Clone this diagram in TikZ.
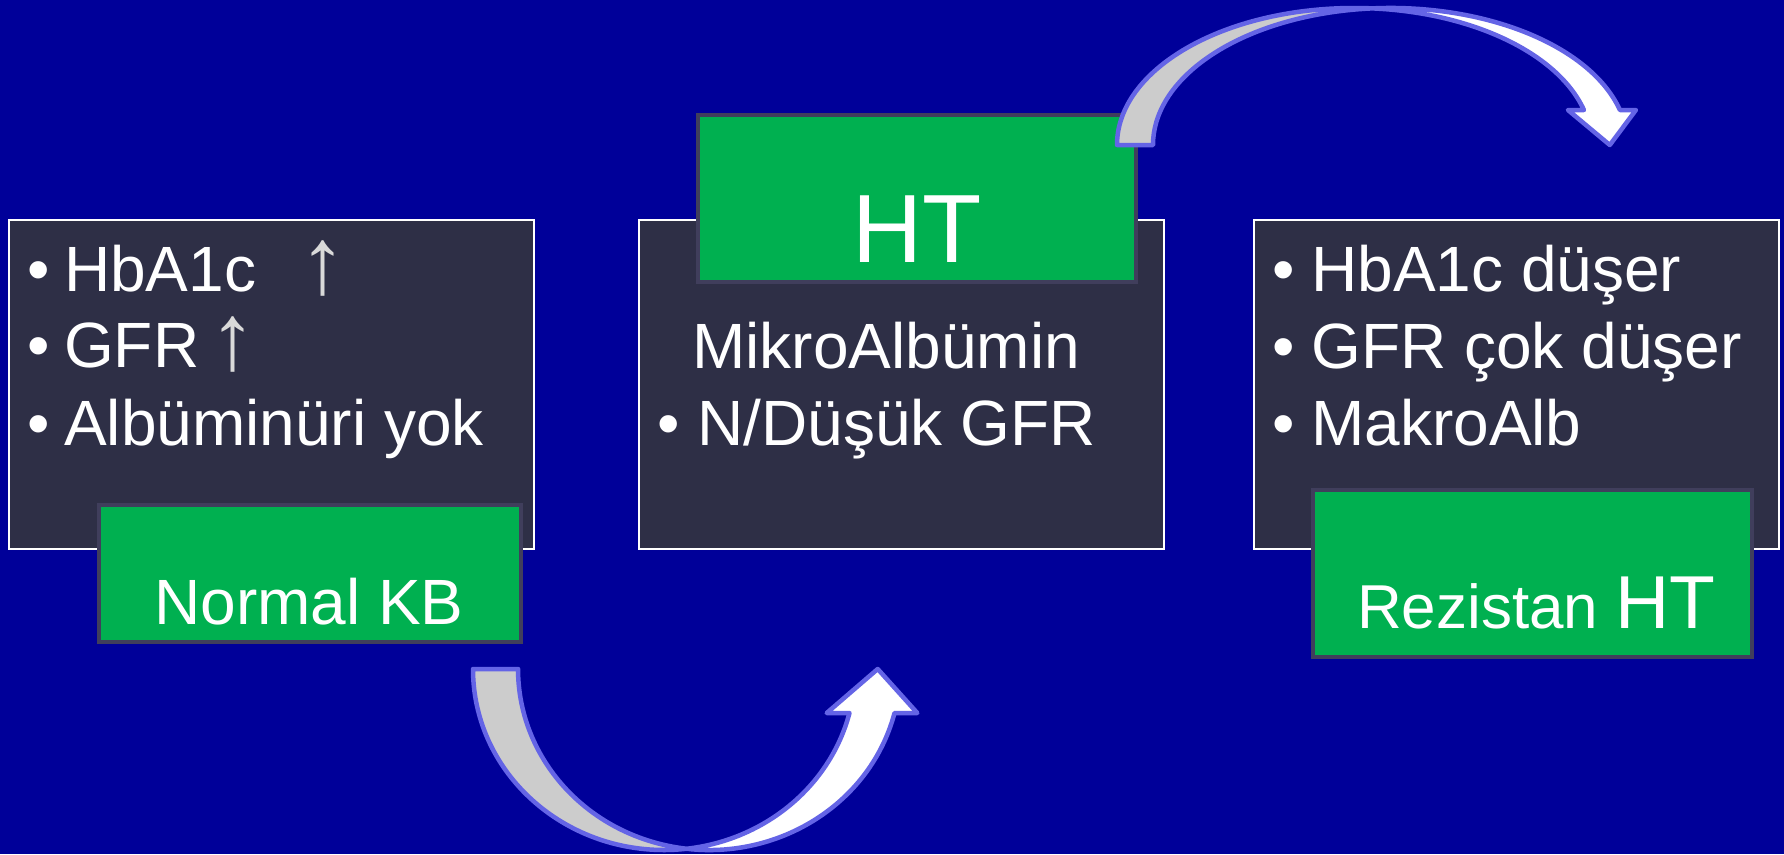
\documentclass[tikz,border=0pt]{standalone}
\usepackage{fontspec}
\setmainfont{Liberation Sans}
\definecolor{bg}{RGB}{0,0,153}
\definecolor{darkfill}{RGB}{46,47,70}
\definecolor{grn}{RGB}{0,176,80}
\definecolor{grnborder}{RGB}{64,62,92}
\definecolor{arrline}{RGB}{100,100,230}
\definecolor{arrgrey}{RGB}{204,204,204}
\definecolor{upgrey}{RGB}{217,217,217}
\tikzset{
  darkbox/.style={draw=white, line width=2pt, fill=darkfill, minimum width=525pt, minimum height=329pt, anchor=north west, inner sep=0pt},
  greenbox/.style={draw=grnborder, line width=4pt, fill=grn, anchor=north west, inner sep=0pt},
  txt/.style={text=white, inner sep=0pt, anchor=base west, font=\fontsize{64}{77}\selectfont},
  bul/.style={text=white, inner sep=0pt, anchor=base, font=\fontsize{64}{77}\selectfont},
  uparr/.style={text=upgrey, inner sep=0pt, anchor=base, font=\fontsize{94}{110}\selectfont},
  arrowline/.style={draw=arrline, line width=4.5pt, line join=round},
}
\begin{document}
\begin{tikzpicture}[x=1pt,y=-1pt]
\fill[bg] (0,0) rectangle (1784,854);
\useasboundingbox (0,0) rectangle (1784,854);

% dark boxes
\node[darkbox] (b1) at (8,219) {};
\node[darkbox] (b2) at (638,219) {};
\node[darkbox] (b3) at (1253,219) {};

% green boxes
\node[greenbox, minimum width=422pt, minimum height=137pt] (g1) at (97,503) {};
\node[greenbox, minimum width=438pt, minimum height=167pt] (g2) at (696,113) {};
\node[greenbox, minimum width=439pt, minimum height=167pt] (g3) at (1311,488) {};

% box 1 text
\node[bul] (p11) at (39,291) {•};
\node[bul] (p12) at (39,367) {•};
\node[bul] (p13) at (39,445) {•};
\node[txt] (t11) at (64,291) {HbA1c};
\node[txt] (t12) at (64,367) {GFR};
\node[txt] (t13) at (64,445) {Albüminüri yok};
\node[uparr] (u1) at (323,293) {\smash{↑}};
\node[uparr] (u2) at (233,369) {\smash{↑}};
\node[text=white, inner sep=0pt, anchor=base, font=\fontsize{64}{77}\selectfont] (l1) at (309,624) {Normal KB};

% box 2 text
\node[txt] (t21) at (692,368) {MikroAlbümin};
\node[bul] (p22) at (669,445) {•};
\node[txt] (t22) at (697,445) {N/Düşük GFR};
\node[text=white, inner sep=0pt, anchor=base, font=\fontsize{97}{110}\selectfont] (l2) at (917,262) {HT};

% box 3 text
\node[bul] (p31) at (1284,291) {•};
\node[bul] (p32) at (1284,368) {•};
\node[bul] (p33) at (1284,445) {•};
\node[txt] (t31) at (1311,291) {HbA1c düşer};
\node[txt] (t32) at (1311,368) {GFR çok düşer};
\node[txt] (t33) at (1311,445) {MakroAlb};
\node[text=white, inner sep=0pt, anchor=base west, font=\fontsize{62}{75}\selectfont] (l3) at (1357,628) {Rezistan {\fontsize{75}{90}\selectfont HT}};

% top curved arrow (down)
\fill[arrgrey] (1117,145) arc[start angle=180, end angle=274.35, x radius=237.4, y radius=137]
  arc[start angle=265.65, end angle=180, x radius=237.4, y radius=137] -- cycle;
\fill[white] (1372.4,8.4) arc[start angle=265.65, end angle=345.2, x radius=237.4, y radius=137]
  -- (1635.9,110) -- (1609.8,145) -- (1567.9,110) -- (1583.9,110)
  arc[start angle=345.2, end angle=274.35, x radius=237.4, y radius=137] -- cycle;
\draw[arrowline] (1153,145) -- (1117,145) arc[start angle=180, end angle=345.2, x radius=237.4, y radius=137]
  -- (1567.9,110) -- (1609.8,145) -- (1635.9,110) -- (1619.9,110)
  arc[start angle=345.2, end angle=180, x radius=237.4, y radius=137] -- cycle;

% bottom curved arrow (up)
\fill[arrgrey] (473,669) arc[start angle=180, end angle=83.24, x radius=191.1, y radius=181]
  arc[start angle=96.76, end angle=180, x radius=191.1, y radius=181] -- cycle;
\fill[white] (686.6,848.7) arc[start angle=96.76, end angle=14.07, x radius=191.1, y radius=181]
  -- (917.3,713) -- (877.7,669) -- (826.7,713) -- (849.5,713)
  arc[start angle=14.07, end angle=83.24, x radius=191.1, y radius=181] -- cycle;
\draw[arrowline] (518.1,669) -- (473,669) arc[start angle=180, end angle=14.07, x radius=191.1, y radius=181]
  -- (826.7,713) -- (877.7,669) -- (917.3,713) -- (894.5,713)
  arc[start angle=14.07, end angle=180, x radius=191.1, y radius=181] -- cycle;
\end{tikzpicture}
\end{document}
